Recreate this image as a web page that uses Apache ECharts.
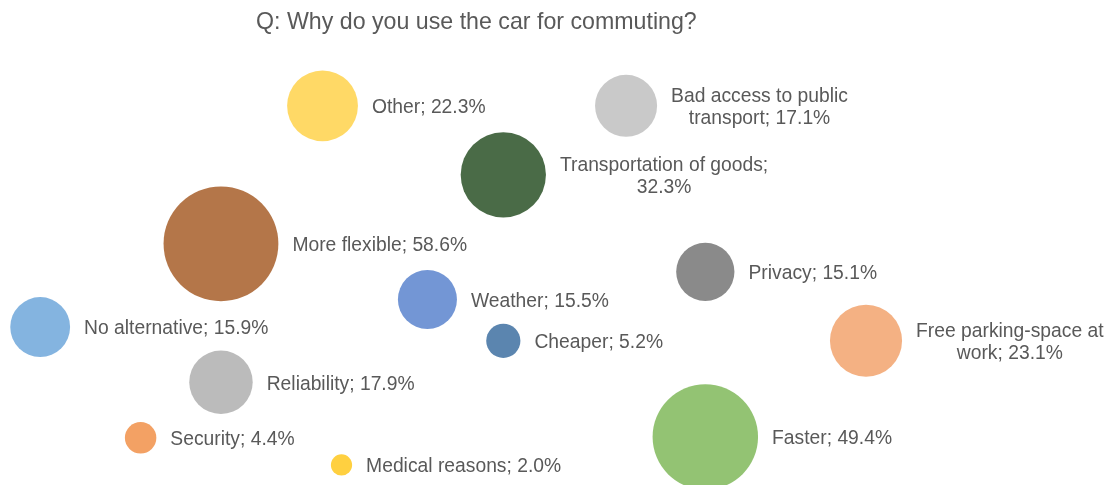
<!DOCTYPE html>
<html>
<head>
<meta charset="utf-8">
<script src="https://cdn.jsdelivr.net/npm/echarts@6/dist/echarts.min.js"></script>
<style>
  html, body { margin: 0; padding: 0; background: #fff; }
  #chart { width: 1116px; height: 485px; }
</style>
</head>
<body>
<div id="chart"></div>
<script>
// Reasons for commuting by car (share of respondents, %)
const categories = [
  'Other',
  'Bad access to public\ntransport',
  'Transportation of goods',
  'More flexible',
  'Weather',
  'No alternative',
  'Cheaper',
  'Reliability',
  'Privacy',
  'Free parking-space at\nwork',
  'Faster',
  'Security',
  'Medical reasons'
];
const shares = [22.3, 17.1, 32.3, 58.6, 15.5, 15.9, 5.2, 17.9, 15.1, 23.1, 49.4, 4.4, 2.0];

// Bubble placement on the (hidden) value axes, 0–100 each way
const xValues = [28.9, 56.1, 45.1, 19.8, 38.3, 3.6, 45.1, 19.8, 63.2, 77.6, 63.2, 12.6, 30.6];
const yValues = [85.2, 85.2, 69.7, 54.2, 41.7, 35.5, 32.4, 23.1, 47.9, 32.4, 10.8, 10.6, 4.5];

// Labels whose value is put on its own line
const valueOnNewLine = new Set(['Transportation of goods']);

const palette = [
  '#FFD966', '#C9C9C9', '#4A6B47', '#B47649', '#7396D5', '#84B4E0', '#5B85AF',
  '#BBBBBB', '#8A8A8A', '#F4B183', '#93C373', '#F3A164', '#FFD040'
];

const textColor = '#595959';
const fontFamily = '"Liberation Sans", Arial, sans-serif';

const points = categories.map((name, i) => ({
  name: name,
  value: [xValues[i], yValues[i], shares[i]],
  itemStyle: { color: palette[i] }
}));

const chart = echarts.init(document.getElementById('chart'), null, { renderer: 'canvas' });

chart.setOption({
  animation: false,
  backgroundColor: '#ffffff',
  title: {
    text: 'Q: Why do you use the car for commuting?',
    left: 256,
    top: 11,
    padding: 0,
    textStyle: {
      color: textColor,
      fontFamily: fontFamily,
      fontSize: 23.2,
      fontWeight: 'normal'
    }
  },
  grid: { left: 0, right: 0, top: 40, bottom: 0 },
  xAxis: {
    type: 'value', min: 0, max: 100,
    show: false, splitLine: { show: false }
  },
  yAxis: {
    type: 'value', min: 0, max: 100,
    show: false, splitLine: { show: false }
  },
  series: [{
    type: 'scatter',
    data: points,
    // bubble area proportional to the share
    symbolSize: (val) => 15 * Math.sqrt(val[2]),
    itemStyle: { opacity: 1 },
    label: {
      show: true,
      position: 'right',
      distance: 14,
      offset: [0, 2],
      formatter: (p) => {
        const sep = valueOnNewLine.has(p.name) ? ';\n' : '; ';
        const text = p.name + sep + p.value[2].toFixed(1) + '%';
        return text.split('\n').map(line => '{c|' + line + '}').join('\n');
      },
      rich: {
        c: {
          align: 'center',
          color: textColor,
          fontFamily: fontFamily,
          fontSize: 19.3,
          lineHeight: 22
        }
      }
    }
  }]
});
</script>
</body>
</html>
